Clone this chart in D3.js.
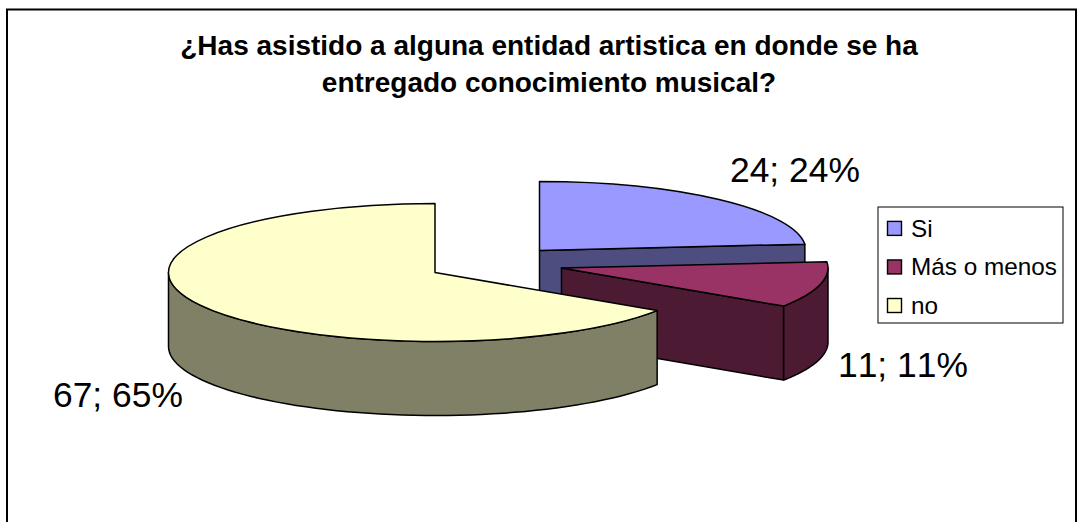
<!DOCTYPE html>
<html><head><meta charset="utf-8">
<script src="https://cdn.jsdelivr.net/npm/d3@7/dist/d3.min.js"></script>
<style>html,body{margin:0;padding:0;background:#fff}svg{display:block}text{font-family:"Liberation Sans",Arial,sans-serif;fill:#000;font-kerning:none}</style>
</head><body><div id="c"></div>
<script>
const categories = ["Si", "Más o menos", "no"];
const values = [24, 11, 67];
const labels = ["24; 24%", "11; 11%", "67; 65%"];
const titleLines = ["¿Has asistido a alguna entidad artistica en donde se ha", "entregado conocimiento musical?"];
const topColors = ["#9999FF", "#993366", "#FFFFCC"];
const sideColors = ["#4D4D80", "#4D1A33", "#808066"];

const W = 1083, H = 522, rx = 266.5, ry = 69, depth = 74;
const centers = [[539.5, 250.5], [561.5, 268], [435, 272.5]];
const labelPos = [[730, 182], [838, 376.5], [53, 406.5]];

const svg = d3.select("#c").append("svg").attr("width", W).attr("height", H);
svg.append("rect").attr("x", 7).attr("y", 9.5).attr("width", 1069).attr("height", 530)
  .attr("fill", "#fff").attr("stroke", "#000").attr("stroke-width", 2);

const t = svg.append("g");
titleLines.forEach((s, i) => t.append("text").attr("x", 549).attr("y", 55 + i * 36.5)
  .attr("text-anchor", "middle").attr("font-weight", "bold").attr("font-size", 28).text(s));

const arcs = d3.pie().sort(null).startAngle(0).endAngle(2 * Math.PI)(values);
const arcGen = d3.arc().innerRadius(0).outerRadius(rx);
const px = (c, a) => c[0] + rx * Math.sin(a);
const py = (c, a) => c[1] - ry * Math.cos(a);
const line = d3.line();

// outer wall of a slice, limited to the front half of the ellipse
function wall(c, a0, a1) {
  const s = Math.max(a0, Math.PI / 2), e = Math.min(a1, 3 * Math.PI / 2);
  if (e <= s) return null;
  const pts = d3.range(0, 61).map(i => s + (e - s) * i / 60);
  const up = pts.map(a => [px(c, a), py(c, a)]);
  const dn = pts.slice().reverse().map(a => [px(c, a), py(c, a) + depth]);
  return line(up.concat(dn)) + "Z";
}
// flat cut face from apex to rim at an angle
function cut(c, a) {
  return line([[c[0], c[1]], [px(c, a), py(c, a)], [px(c, a), py(c, a) + depth], [c[0], c[1] + depth]]) + "Z";
}
const st = sel => sel.attr("stroke", "#000").attr("stroke-width", 1.5).attr("stroke-linejoin", "round");

arcs.forEach((d, i) => {
  const c = centers[i], g = svg.append("g");
  if (i < 2) {
    g.append("path").attr("d", cut(c, d.endAngle)).attr("fill", sideColors[i]).call(st);
  }
  const w = wall(c, d.startAngle, d.endAngle);
  if (w) g.append("path").attr("d", w).attr("fill", sideColors[i]).call(st);
  g.append("path").attr("d", arcGen(d))
    .attr("transform", `translate(${c[0]},${c[1]}) scale(1,${ry / rx})`)
    .attr("fill", topColors[i]).attr("stroke", "#000").attr("stroke-width", 1.5)
    .attr("vector-effect", "non-scaling-stroke").attr("stroke-linejoin", "round");
});

labels.forEach((s, i) => svg.append("text").attr("x", labelPos[i][0]).attr("y", labelPos[i][1])
  .attr("font-size", 35.4).text(s));

const lg = svg.append("g");
lg.append("rect").attr("x", 878).attr("y", 207).attr("width", 185).attr("height", 116)
  .attr("fill", "#fff").attr("stroke", "#000").attr("stroke-width", 1);
const ly = d3.scalePoint().domain(categories).range([228.4, 305.5]);
categories.forEach((s, i) => {
  lg.append("rect").attr("x", 887.5).attr("y", ly(s) - 7).attr("width", 14).attr("height", 14)
    .attr("fill", topColors[i]).attr("stroke", "#000").attr("stroke-width", 1.4);
  lg.append("text").attr("x", 911).attr("y", ly(s) + 8.5).attr("font-size", 24.3).text(s);
});
</script></body></html>
